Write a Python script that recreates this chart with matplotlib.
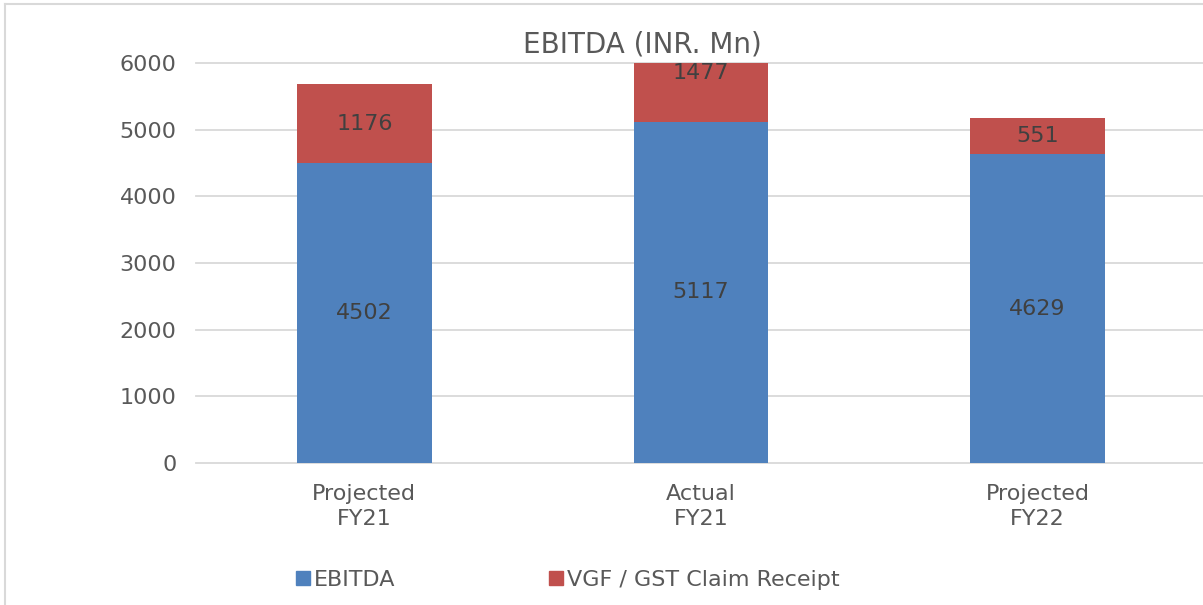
import numpy as np
import matplotlib
matplotlib.use("Agg")
import matplotlib.pyplot as plt
from matplotlib.lines import Line2D

# Chart data
categories = ["Projected\nFY21", "Actual\nFY21", "Projected\nFY22"]
ebitda = [4502, 5117, 4629]
vgf_gst = [1176, 1477, 551]
yticks = [0, 1000, 2000, 3000, 4000, 5000, 6000]

blue = "#4F81BD"
red = "#C0504D"
text_col = "#595959"
label_col = "#404040"
grid_col = "#D9D9D9"

plt.rcParams['font.family'] = ['DejaVu Sans']

W, H = 1203, 605
fig = plt.figure(figsize=(W / 100, H / 100), dpi=100)

# axes: x from 196 to 1206 px, y from 63 (6000) to 463 (0)
ax = fig.add_axes([196 / W, 1 - 463 / H, (1206 - 196) / W, (463 - 63) / H])

x = np.arange(len(categories))
bw = 0.4
ax.bar(x, ebitda, width=bw, color=blue, zorder=3)
ax.bar(x, vgf_gst, width=bw, bottom=ebitda, color=red, zorder=3)

ax.set_ylim(0, 6000)
ax.set_xlim(-0.5, 2.5)

# data labels in the middle of each segment
for i in range(len(x)):
    ax.text(x[i], ebitda[i] / 2, str(ebitda[i]), ha="center", va="center",
            fontsize=16, color=label_col, zorder=4)
    ax.text(x[i], ebitda[i] + vgf_gst[i] / 2, str(vgf_gst[i]), ha="center",
            va="center", fontsize=16, color=label_col, zorder=4)

# horizontal gridlines, unclipped so the edge ones keep full width
for t in yticks:
    ax.axhline(t, color=grid_col, linewidth=1.3, zorder=0, clip_on=False)

ax.set_yticks(yticks)
ax.set_yticklabels([str(t) for t in yticks], fontsize=16, color=text_col)
ax.set_xticks(x)
ax.set_xticklabels(categories, fontsize=16, color=text_col, linespacing=1.3)
ax.tick_params(axis="y", length=0, pad=14)
ax.tick_params(axis="x", length=0, pad=15)

for s in ax.spines.values():
    s.set_visible(False)

fig.text(642 / W, 1 - 45 / H, "EBITDA (INR. Mn)", ha="center", va="center",
         fontsize=20, color=text_col)

# legend
handles = [Line2D([], [], marker="s", linestyle="", markersize=10,
                  markerfacecolor=blue, markeredgecolor=blue),
           Line2D([], [], marker="s", linestyle="", markersize=10,
                  markerfacecolor=red, markeredgecolor=red)]
fig.legend(handles, ["EBITDA", "VGF / GST Claim Receipt"], loc="center left",
           bbox_to_anchor=(274 / W, 1 - 580 / H), ncol=2, frameon=False,
           fontsize=16, labelcolor=text_col, handletextpad=0.1,
           columnspacing=6.8, handlelength=0.8)

# chart border (left and top visible)
fig.add_artist(Line2D([5 / W, 5 / W], [0, 1 - 4 / H], transform=fig.transFigure,
                      color=grid_col, linewidth=1.5))
fig.add_artist(Line2D([5 / W, 1], [1 - 4 / H, 1 - 4 / H], transform=fig.transFigure,
                      color=grid_col, linewidth=1.5))

fig.savefig("out.png", dpi=100)
